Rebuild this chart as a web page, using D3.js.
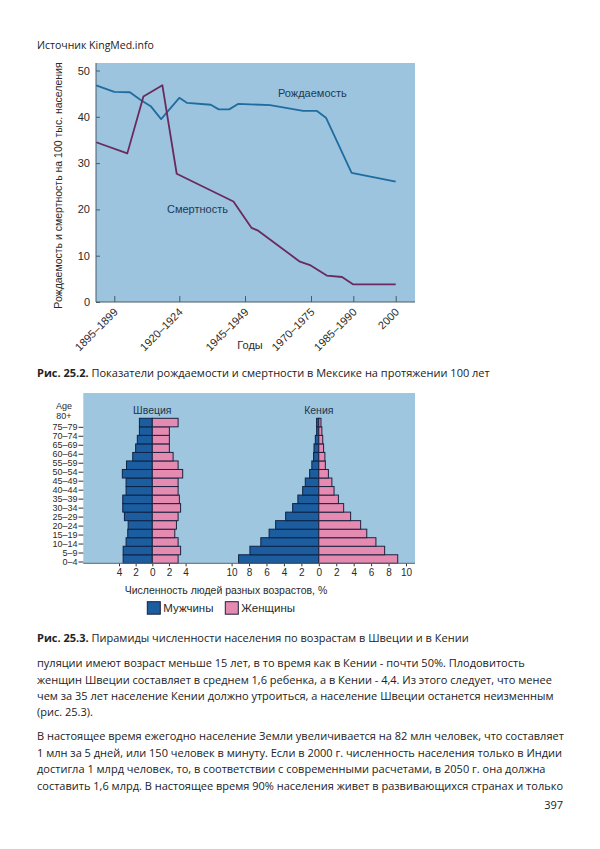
<!DOCTYPE html>
<html>
<head>
<meta charset="utf-8">
<script src="https://cdn.jsdelivr.net/npm/d3@7"></script>
<style>
  body { margin: 0; background: #fff; }
  svg { display: block; }
</style>
</head>
<body>
<script>
'use strict';

// --- Рис. 25.2: Мексика, рождаемость и смертность ---
const periodYears = [1897, 1922, 1947, 1972, 1987, 2000];
const periodLabels = ['1895–1899', '1920–1924', '1945–1949', '1970–1975', '1985–1990', '2000'];
const rateTicks = [0, 10, 20, 30, 40, 50];

const birthRate = [
    [1890, 46.8], [1897, 45.4], [1903, 45.3], [1907, 43.7], [1911, 42.3],
    [1915, 39.5], [1922, 44.1], [1925, 43.0], [1934, 42.6], [1937, 41.6],
    [1941, 41.6], [1944.5, 42.8], [1956.5, 42.5], [1969, 41.3], [1974, 41.3],
    [1977.3, 39.8], [1986.4, 27.9], [2000, 26.0]
];

const deathRate = [
    [1890, 34.5], [1902, 32.1], [1908.2, 44.4], [1915.5, 46.8], [1921, 27.7],
    [1942.6, 21.7], [1949.5, 16.0], [1952, 15.4], [1967.8, 8.7], [1971.9, 7.9],
    [1977.6, 5.7], [1983, 5.4], [1987, 3.8], [2000, 3.8]
];

// --- Рис. 25.3: пирамиды, от 0–4 вверх до 80+ ---
const ageGroups = ['0–4', '5–9', '10–14', '15–19', '20–24', '25–29', '30–34', '35–39',
    '40–44', '45–49', '50–54', '55–59', '60–64', '65–69', '70–74', '75–79', '80+'];

const swedenMale   = [3.5, 3.5, 3.15, 2.95, 2.9, 3.35, 3.55, 3.55, 3.15, 3.15, 3.6, 3.1, 2.35, 2.0, 1.8, 1.55, 1.55];
const swedenFemale = [3.1, 3.4, 3.1, 2.7, 2.9, 3.1, 3.4, 3.25, 3.1, 3.1, 3.65, 3.1, 2.5, 2.05, 2.05, 2.05, 3.1];
const kenyaMale    = [9.2, 7.9, 6.65, 5.7, 4.95, 3.8, 3.0, 2.4, 1.85, 1.55, 1.05, 0.8, 0.6, 0.55, 0.4, 0.25, 0.25];
const kenyaFemale  = [9.05, 7.55, 6.55, 5.5, 4.8, 3.65, 2.85, 2.25, 1.75, 1.5, 1.1, 0.75, 0.7, 0.55, 0.45, 0.35, 0.25];

const swedenTicks = [-4, -2, 0, 2, 4];
const kenyaTicks = [-10, -8, -6, -4, -2, 0, 2, 4, 6, 8, 10];

const legendItems = [
    { label: 'Мужчины', color: '#1b5d9e' },
    { label: 'Женщины', color: '#e58ab0' }
];

// --- текст страницы ---
const bodyLines = [
    'пуляции имеют возраст меньше 15 лет, в то время как в Кении - почти 50%. Плодовитость',
    'женщин Швеции составляет в среднем 1,6 ребенка, а в Кении - 4,4. Из этого следует, что менее',
    'чем за 35 лет население Кении должно утроиться, а население Швеции останется неизменным',
    '(рис. 25.3).',
    'В настоящее время ежегодно население Земли увеличивается на 82 млн человек, что составляет',
    '1 млн за 5 дней, или 150 человек в минуту. Если в 2000 г. численность населения только в Индии',
    'достигла 1 млрд человек, то, в соответствии с современными расчетами, в 2050 г. она должна',
    'составить 1,6 млрд. В настоящее время 90% населения живет в развивающихся странах и только'
];

const chartFont = '"Liberation Sans", Arial, sans-serif';
const pageFont = '"Open Sans", "Noto Sans", sans-serif';

const svg = d3.select('body')
    .append('svg')
        .attr('width', 600)
        .attr('height', 849);

svg.append('rect')
    .attr('width', 600)
    .attr('height', 849)
    .attr('fill', '#fff');

function buildRatesChart() {
    const left = 96, right = 415, top = 63, bottom = 302;

    const y = d3.scaleLinear()
        .domain([0, 50])
        .range([bottom, 70.5]);

    // ось лет неравномерная, поэтому шкала кусочно-линейная
    const x = d3.scaleLinear()
        .domain(periodYears)
        .range([114.3, 179.3, 245, 311, 353.3, 395.7]);

    svg.append('rect')
        .attr('x', left)
        .attr('y', top)
        .attr('width', right - left)
        .attr('height', bottom - top)
        .attr('fill', '#9cc4df');

    const line = d3.line()
        .x(d => x(d[0]))
        .y(d => y(d[1]));

    svg.append('path')
        .datum(birthRate)
        .attr('fill', 'none')
        .attr('stroke', '#1f6c9f')
        .attr('stroke-width', 1.8)
        .attr('stroke-linejoin', 'round')
        .attr('d', line);

    svg.append('path')
        .datum(deathRate)
        .attr('fill', 'none')
        .attr('stroke', '#6a2a5c')
        .attr('stroke-width', 1.8)
        .attr('stroke-linejoin', 'round')
        .attr('d', line);

    const yAxis = svg.append('g')
        .attr('transform', `translate(${left},0)`)
        .call(d3.axisLeft(y).tickValues(rateTicks).tickSize(-4).tickPadding(6).tickSizeOuter(0));

    const xAxis = svg.append('g')
        .attr('transform', `translate(0,${bottom})`)
        .call(d3.axisBottom(x)
            .tickValues(periodYears)
            .tickFormat((d, i) => periodLabels[i])
            .tickSize(-6)
            .tickSizeOuter(0));

    xAxis.select('.domain').remove();
    yAxis.select('.domain').remove();

    xAxis.selectAll('text')
        .attr('x', 0)
        .attr('y', 0)
        .attr('dy', '0.35em')
        .attr('text-anchor', 'end')
        .attr('transform', 'translate(1,8) rotate(-45)');

    [xAxis, yAxis].forEach(g => {
        g.selectAll('text')
            .attr('font-family', chartFont)
            .attr('font-size', 11)
            .attr('fill', '#2a2a2a');
        g.selectAll('line').attr('stroke', '#4b5b68');
    });

    svg.append('path')
        .attr('d', `M${left},${top}V${bottom}H${right}`)
        .attr('fill', 'none')
        .attr('stroke', '#4b5b68')
        .attr('stroke-width', 1);

    svg.append('text')
        .attr('transform', `translate(62,${(top + bottom) / 2 + 3}) rotate(-90)`)
        .attr('text-anchor', 'middle')
        .attr('font-family', chartFont)
        .attr('font-size', 10.5)
        .attr('fill', '#2a2a2a')
        .text('Рождаемость и смертность на 100 тыс. населения');

    svg.append('text')
        .attr('x', 250)
        .attr('y', 349)
        .attr('text-anchor', 'middle')
        .attr('font-family', chartFont)
        .attr('font-size', 11)
        .attr('fill', '#2a2a2a')
        .text('Годы');

    svg.append('text')
        .attr('x', 278)
        .attr('y', 97)
        .attr('font-family', chartFont)
        .attr('font-size', 11)
        .attr('fill', '#1d3a55')
        .text('Рождаемость');

    svg.append('text')
        .attr('x', 167)
        .attr('y', 213)
        .attr('font-family', chartFont)
        .attr('font-size', 11)
        .attr('fill', '#1d3a55')
        .text('Смертность');
}

function buildPyramids() {
    const left = 83.3, right = 415, top = 393, bottom = 563.3;

    svg.append('rect')
        .attr('x', left)
        .attr('y', top)
        .attr('width', right - left)
        .attr('height', bottom - top)
        .attr('fill', '#9fc6df');

    const y = d3.scaleBand()
        .domain(ageGroups)
        .range([bottom, 418.3]);

    const labelY = d3.scalePoint()
        .domain(ageGroups.slice(0, 16))
        .range([562, 427.3]);

    const xSweden = d3.scaleLinear().domain([-4, 4]).range([119, 185.6]);
    const xKenya = d3.scaleLinear().domain([-10, 10]).range([231.6, 406.0]);

    const pyramids = [
        { name: 'Швеция', x: xSweden, male: swedenMale, female: swedenFemale, ticks: swedenTicks },
        { name: 'Кения', x: xKenya, male: kenyaMale, female: kenyaFemale, ticks: kenyaTicks }
    ];

    pyramids.forEach(p => {
        const g = svg.append('g');
        const x = p.x;

        g.selectAll('rect.male')
            .data(p.male)
            .enter()
            .append('rect')
                .attr('class', 'male')
                .attr('x', d => x(-d))
                .attr('y', (d, i) => y(ageGroups[i]))
                .attr('width', d => x(0) - x(-d))
                .attr('height', y.bandwidth())
                .attr('fill', legendItems[0].color)
                .attr('stroke', '#0e2347')
                .attr('stroke-width', 1);

        g.selectAll('rect.female')
            .data(p.female)
            .enter()
            .append('rect')
                .attr('class', 'female')
                .attr('x', x(0))
                .attr('y', (d, i) => y(ageGroups[i]))
                .attr('width', d => x(d) - x(0))
                .attr('height', y.bandwidth())
                .attr('fill', legendItems[1].color)
                .attr('stroke', '#1c2240')
                .attr('stroke-width', 1);

        g.append('text')
            .attr('x', x(0))
            .attr('y', 414)
            .attr('text-anchor', 'middle')
            .attr('font-family', chartFont)
            .attr('font-size', 10.5)
            .attr('fill', '#1d3550')
            .text(p.name);

        const axis = svg.append('g')
            .attr('transform', `translate(0,${bottom})`)
            .call(d3.axisBottom(x)
                .tickValues(p.ticks)
                .tickFormat(d => Math.abs(d))
                .tickSize(3)
                .tickPadding(3)
                .tickSizeOuter(0));

        axis.select('.domain').remove();
        axis.selectAll('line').attr('stroke', '#333');
        axis.selectAll('text')
            .attr('font-family', chartFont)
            .attr('font-size', 10)
            .attr('fill', '#2a2a2a');
    });

    svg.append('line')
        .attr('x1', left)
        .attr('x2', right)
        .attr('y1', bottom)
        .attr('y2', bottom)
        .attr('stroke', '#5a6670');

    // подписи возрастов слева
    const ages = svg.append('g');
    ages.selectAll('text')
        .data(ageGroups.slice(0, 16))
        .enter()
        .append('text')
            .attr('x', 77.5)
            .attr('y', d => labelY(d))
            .attr('dy', '0.35em')
            .attr('text-anchor', 'end')
            .attr('font-family', chartFont)
            .attr('font-size', 9)
            .attr('fill', '#2a2a2a')
            .text(d => d);

    ages.selectAll('line')
        .data(ageGroups.slice(0, 16))
        .enter()
        .append('line')
            .attr('x1', 78.5)
            .attr('x2', left)
            .attr('y1', d => labelY(d))
            .attr('y2', d => labelY(d))
            .attr('stroke', '#333');

    [['Age', 405.5], [ageGroups[16], 415.5]].forEach(([t, yy]) => {
        ages.append('text')
            .attr('x', 64)
            .attr('y', yy)
            .attr('dy', '0.35em')
            .attr('text-anchor', 'middle')
            .attr('font-family', chartFont)
            .attr('font-size', 9)
            .attr('fill', '#2a2a2a')
            .text(t);
    });

    svg.append('text')
        .attr('x', 226)
        .attr('y', 594)
        .attr('text-anchor', 'middle')
        .attr('font-family', chartFont)
        .attr('font-size', 10.5)
        .attr('fill', '#2a2a2a')
        .text('Численность людей разных возрастов, %');

    const legend = svg.append('g')
        .selectAll('g')
        .data(legendItems)
        .enter()
            .append('g')
            .attr('transform', (d, i) => `translate(${147.3 + 78 * i},601.7)`);

    legend.append('rect')
        .attr('width', 13)
        .attr('height', 12.5)
        .attr('fill', d => d.color)
        .attr('stroke', '#1a2238')
        .attr('stroke-width', 1);

    legend.append('text')
        .attr('x', 16)
        .attr('y', 10.5)
        .attr('font-family', chartFont)
        .attr('font-size', 11.5)
        .attr('fill', '#2a2a2a')
        .text(d => d.label);
}

function buildPageText() {
    const fs = 11;

    svg.append('text')
        .attr('x', 37)
        .attr('y', 49)
        .attr('font-family', pageFont)
        .attr('font-size', 10.5)
        .attr('fill', '#222')
        .text('Источник KingMed.info');

    const captions = [
        { y: 377, num: 'Рис. 25.2.', rest: ' Показатели рождаемости и смертности в Мексике на протяжении 100 лет' },
        { y: 642, num: 'Рис. 25.3.', rest: ' Пирамиды численности населения по возрастам в Швеции и в Кении' }
    ];

    captions.forEach(c => {
        const t = svg.append('text')
            .attr('x', 37)
            .attr('y', c.y)
            .attr('font-family', pageFont)
            .attr('font-size', fs)
            .attr('fill', '#222');
        t.append('tspan').attr('font-weight', 'bold').text(c.num);
        t.append('tspan').text(c.rest);
    });

    const lineY = [667, 683.5, 700, 716, 740, 756.5, 773, 789.5];

    svg.append('g')
        .selectAll('text')
        .data(bodyLines)
        .enter()
        .append('text')
            .attr('x', 37)
            .attr('y', (d, i) => lineY[i])
            .attr('font-family', pageFont)
            .attr('font-size', fs)
            .attr('fill', '#222')
            .text(d => d);

    svg.append('text')
        .attr('x', 563)
        .attr('y', 809)
        .attr('text-anchor', 'end')
        .attr('font-family', pageFont)
        .attr('font-size', fs)
        .attr('fill', '#222')
        .text('397');
}

window.addEventListener('DOMContentLoaded', () => {
    buildRatesChart();
    buildPyramids();
    buildPageText();
});
</script>
</body>
</html>
